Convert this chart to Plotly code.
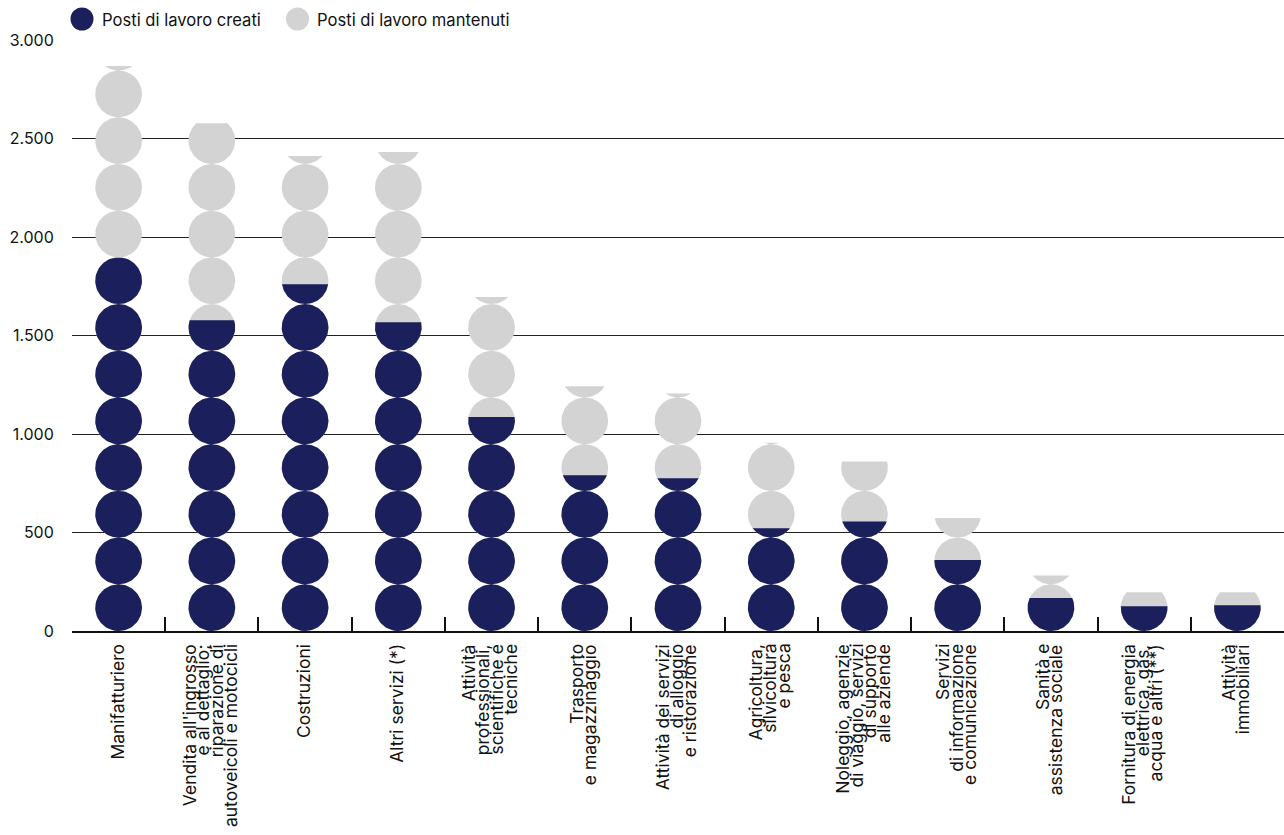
import numpy as np
import plotly.graph_objects as go

# Sectors, one entry per column; each inner list holds the lines of its label
categories = [
    ["Manifatturiero"],
    ["Vendita all'ingrosso", "e al dettaglio;", "riparazione di", "autoveicoli e motocicli"],
    ["Costruzioni"],
    ["Altri servizi (*)"],
    ["Attività", "professionali,", "scientifiche e", "tecniche"],
    ["Trasporto", "e magazzinaggio"],
    ["Attività dei servizi", "di alloggio", "e ristorazione"],
    ["Agricoltura,", "silvicoltura", "e pesca"],
    ["Noleggio, agenzie", "di viaggio, servizi", "di supporto", "alle aziende"],
    ["Servizi", "di informazione", "e comunicazione"],
    ["Sanità e", "assistenza sociale"],
    ["Fornitura di energia", "elettrica, gas,", "acqua e altri (**)"],
    ["Attività", "immobiliari"],
]

created = [1895, 1577, 1760, 1567, 1086, 790, 775, 521, 556, 360, 167, 126, 131]
maintained = [973, 1001, 651, 864, 610, 452, 430, 435, 305, 213, 115, 71, 66]

series_names = ["Posti di lavoro creati", "Posti di lavoro mantenuti"]
y_tick_values = [0, 500, 1000, 1500, 2000, 2500, 3000]
y_tick_labels = ["0", "500", "1.000", "1.500", "2.000", "2.500", "3.000"]

DARK = "#1b1f5b"
LIGHT = "#d3d3d3"
TEXT = "#111111"
FONT = "Inter"

# Figure geometry (pixels)
W, H = 1284, 835
M_L, M_R, M_T, M_B = 72, 0, 40, 204
PLOT_W = W - M_L - M_R
PLOT_H = H - M_T - M_B
Y_MAX = 3000
N = len(categories)

DOT_PX = 46.7                              # symbol diameter on screen
px_per_unit_y = PLOT_H / Y_MAX
px_per_unit_x = PLOT_W / N
unit = DOT_PX / px_per_unit_y              # value represented by one symbol
rx = (DOT_PX / 2) / px_per_unit_x
ry = unit / 2


def dot_column(cx, value, steps=40):
    """Stack of circles from 0 up to `value`, the last one cut flat at `value`."""
    xs, ys = [], []
    k = 0
    while k * unit < value:
        cy = (k + 0.5) * unit
        top = min(value, cy + ry)
        t_hi = np.arcsin(np.clip((top - cy) / ry, -1, 1))
        t_lo = -np.pi / 2
        right = np.linspace(t_lo, t_hi, steps)
        left = np.linspace(t_hi, t_lo, steps)
        xs += list(cx + rx * np.cos(right)) + list(cx - rx * np.cos(left)) + [None]
        ys += list(cy + ry * np.sin(right)) + list(cy + ry * np.sin(left)) + [None]
        k += 1
    return xs, ys


totals = [c + m for c, m in zip(created, maintained)]

fig = go.Figure()
for values, color, name in [(totals, LIGHT, series_names[1]), (created, DARK, series_names[0])]:
    xs, ys = [], []
    for i, v in enumerate(values):
        cx_, cy_ = dot_column(i, v)
        xs += cx_
        ys += cy_
    fig.add_trace(go.Scatter(
        x=xs, y=ys, mode="lines", fill="toself", fillcolor=color,
        line=dict(width=0, color=color), name=name, showlegend=False,
        hoverinfo="skip",
    ))


def paper_x(px):
    return (px - M_L) / PLOT_W


def paper_y(py):
    return 1 - (py - M_T) / PLOT_H


annotations = []
shapes = []

# Category labels, rotated, one annotation per line so the leading stays tight
LINE_STEP = 13.8
for i, lines in enumerate(categories):
    n = len(lines)
    for j, line in enumerate(lines):
        annotations.append(dict(
            x=i, xref="x", y=0, yref="paper", yanchor="top", xanchor="center",
            yshift=-11, xshift=(j - (n - 1) / 2) * LINE_STEP - 2,
            text=line, textangle=-90, showarrow=False,
            font=dict(family=FONT, size=17.5, color=TEXT),
        ))

# Legend drawn as circles plus text
legend_items = [(series_names[0], DARK, 82, 100), (series_names[1], LIGHT, 297.5, 315)]
for name, color, cx_px, tx_px in legend_items:
    shapes.append(dict(
        type="circle", xref="paper", yref="paper",
        xsizemode="pixel", ysizemode="pixel",
        xanchor=paper_x(cx_px), yanchor=paper_y(19),
        x0=-11.5, x1=11.5, y0=-11.5, y1=11.5,
        fillcolor=color, line=dict(width=0),
    ))
    annotations.append(dict(
        x=paper_x(tx_px), xref="paper", y=paper_y(19.5), yref="paper",
        xanchor="left", yanchor="middle", text=name, showarrow=False,
        font=dict(family=FONT, size=16.6, color=TEXT),
    ))

fig.update_layout(
    width=W, height=H,
    margin=dict(l=M_L, r=M_R, t=M_T, b=M_B, pad=0),
    paper_bgcolor="white", plot_bgcolor="white",
    showlegend=False,
    font=dict(family=FONT, color=TEXT),
    annotations=annotations,
    shapes=shapes,
    xaxis=dict(
        range=[-0.5, N - 0.5], tickmode="linear", tick0=-0.5, dtick=1,
        ticks="inside", ticklen=14, tickwidth=2, tickcolor="#111",
        showticklabels=False, showgrid=False, zeroline=False,
        showline=True, linecolor="#111", linewidth=1.5, fixedrange=True,
    ),
    yaxis=dict(
        range=[0, Y_MAX], tickmode="array", tickvals=y_tick_values, ticktext=y_tick_labels,
        ticks="outside", ticklen=14, tickcolor="rgba(0,0,0,0)",
        tickfont=dict(family=FONT, size=16, color=TEXT),
        showgrid=True, gridcolor="#222222", gridwidth=1.4,
        zeroline=False, showline=False, fixedrange=True,
    ),
)

fig.write_html("out.html")
